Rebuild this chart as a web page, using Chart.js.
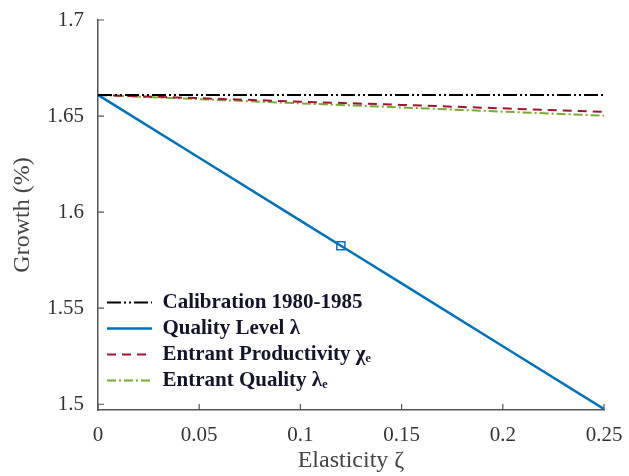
<!DOCTYPE html>
<html>
<head>
<meta charset="utf-8">
<script src="https://cdn.jsdelivr.net/npm/chart.js@4.4.0/dist/chart.umd.min.js"></script>
<style>
  html, body { margin: 0; padding: 0; background: #fff; }
  #wrap { width: 629px; height: 476px; }
</style>
</head>
<body>
<div id="wrap"><canvas id="chart" width="629" height="476"></canvas></div>
<script>
const elasticity = [0, 0.05, 0.1, 0.15, 0.2, 0.25];
const calibration = [1.661, 1.661, 1.661, 1.661, 1.661, 1.661];
const entrantProductivity = [1.661, 1.6593, 1.6575, 1.6558, 1.654, 1.6522];
const entrantQuality = [1.661, 1.6588, 1.6566, 1.6545, 1.6523, 1.6502];
const qualityX = [0, 0.05, 0.1, 0.12, 0.15, 0.2, 0.25];
const qualityLevel = [1.661, 1.6283, 1.5956, 1.5825, 1.5629, 1.5302, 1.4975];
const markerX = [0.12];
const markerY = [1.5825];

const xTicks = [0, 0.05, 0.1, 0.15, 0.2, 0.25];
const xTickLabels = ["0", "0.05", "0.1", "0.15", "0.2", "0.25"];
const yTicks = [1.5, 1.55, 1.6, 1.65, 1.7];
const yTickLabels = ["1.5", "1.55", "1.6", "1.65", "1.7"];
const seriesLabels = ["Calibration 1980-1985", "Quality Level λ", "Entrant Productivity χₑ", "Entrant Quality λₑ"];

function points(xs, ys) {
    return xs.map((x, i) => ({ x: x, y: ys[i] }));
}

// tick marks drawn inward, like the original figure
const innerTicks = {
    id: "innerTicks",
    afterDatasetsDraw(chart) {
        const { ctx, chartArea } = chart;
        const x = chart.scales.x, y = chart.scales.y;
        ctx.save();
        ctx.strokeStyle = "#555";
        ctx.lineWidth = 1.2;
        ctx.beginPath();
        x.ticks.forEach(t => {
            const px = x.getPixelForValue(t.value);
            ctx.moveTo(px, chartArea.bottom);
            ctx.lineTo(px, chartArea.bottom - 6);
        });
        y.ticks.forEach(t => {
            const py = y.getPixelForValue(t.value);
            ctx.moveTo(chartArea.left, py);
            ctx.lineTo(chartArea.left + 6, py);
        });
        ctx.stroke();
        ctx.restore();
    }
};

// nudge the in-plot legend a little off the axes
const legendShift = {
    id: "legendShift",
    afterLayout(chart) {
        chart.legend.left += 4;
        chart.legend.bottom += 6;
    }
};

const ctx = document.getElementById("chart").getContext("2d");

new Chart(ctx, {
    type: "line",
    data: {
        datasets: [
            {
                label: seriesLabels[0],
                data: points(elasticity, calibration),
                borderColor: "#000000",
                borderWidth: 2,
                borderDash: [14, 3, 2, 3, 2, 3],
                pointRadius: 0
            },
            {
                label: seriesLabels[1],
                data: points(qualityX, qualityLevel),
                borderColor: "#0072BD",
                borderWidth: 2.5,
                pointRadius: 0
            },
            {
                label: seriesLabels[2],
                data: points(elasticity, entrantProductivity),
                borderColor: "#A2142F",
                borderWidth: 2,
                borderDash: [9, 6],
                pointRadius: 0
            },
            {
                label: seriesLabels[3],
                data: points(elasticity, entrantQuality),
                borderColor: "#77AC30",
                borderWidth: 2,
                borderDash: [9, 3, 2, 3],
                pointRadius: 0
            },
            {
                label: "marker",
                data: points(markerX, markerY),
                showLine: false,
                pointStyle: "rect",
                pointRadius: 5.7,
                borderColor: "#0072BD",
                backgroundColor: "#ffffff",
                pointBorderWidth: 1.5
            }
        ]
    },
    options: {
        animation: false,
        responsive: false,
        layout: { padding: { top: 20, right: 25, left: 0, bottom: 0 } },
        plugins: {
            tooltip: { enabled: false },
            legend: {
                position: "chartArea",
                align: "end",
                labels: {
                    generateLabels: chart => Chart.defaults.plugins.legend.labels.generateLabels(chart).map(item => {
                        const ds = chart.data.datasets[item.datasetIndex];
                        item.lineDash = ds.borderDash || [];
                        item.strokeStyle = ds.borderColor;
                        item.lineWidth = ds.borderWidth;
                        return item;
                    }),
                    filter: item => item.text !== "marker",
                    usePointStyle: true,
                    pointStyle: "line",
                    pointStyleWidth: 45,
                    padding: 5,
                    color: "#14142b",
                    font: { family: "Liberation Serif", size: 21, weight: "bold" }
                }
            }
        },
        scales: {
            x: {
                type: "linear",
                min: 0,
                max: 0.25,
                afterBuildTicks: scale => { scale.ticks = xTicks.map(v => ({ value: v })); },
                afterFit: scale => {
                    scale.height = 66;
                    scale.paddingLeft = 0;
                    scale.paddingRight = 0;
                },
                grid: { display: false, drawTicks: false },
                border: { display: true, color: "#555", width: 1.5 },
                ticks: {
                    padding: 13,
                    color: "#333",
                    font: { family: "Liberation Serif", size: 21 },
                    callback: (v, i) => xTickLabels[i]
                },
                title: {
                    display: true,
                    text: "Elasticity ζ",
                    color: "#444",
                    padding: { top: 0, bottom: 1 },
                    font: { family: "Liberation Serif", size: 24 }
                }
            },
            y: {
                min: 1.497,
                max: 1.7,
                afterBuildTicks: scale => { scale.ticks = yTicks.map(v => ({ value: v })); },
                afterFit: scale => {
                    scale.width = 98;
                    scale.paddingTop = 0;
                    scale.paddingBottom = 0;
                },
                grid: { display: false, drawTicks: false },
                border: { display: true, color: "#555", width: 1.5 },
                ticks: {
                    padding: 14,
                    color: "#333",
                    font: { family: "Liberation Serif", size: 21 },
                    callback: (v, i) => yTickLabels[i]
                },
                title: {
                    display: true,
                    text: "Growth (%)",
                    color: "#444",
                    padding: { top: 8, bottom: 0 },
                    font: { family: "Liberation Serif", size: 24 }
                }
            }
        }
    },
    plugins: [innerTicks, legendShift]
});
</script>
</body>
</html>
